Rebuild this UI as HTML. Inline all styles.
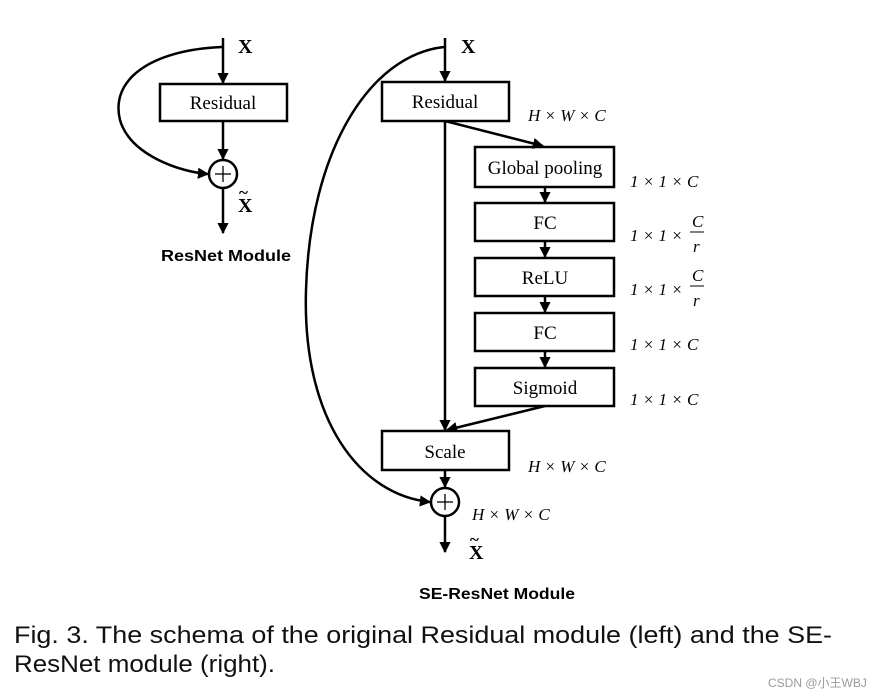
<!DOCTYPE html>
<html><head><style>
html,body{margin:0;padding:0;background:#fff;width:894px;height:699px;overflow:hidden}
svg{display:block}
.t{font-family:"Liberation Serif",serif;font-size:19px}
.m{font-family:"Liberation Serif",serif;font-size:17px;font-style:italic}
.b{font-family:"Liberation Sans",sans-serif;font-weight:bold;font-size:16px}
</style></head><body>
<svg width="894" height="699" viewBox="0 0 894 699">
<defs><marker id="a" viewBox="0 0 10 10" refX="9" refY="5" markerWidth="4.5" markerHeight="4.5" orient="auto"><path d="M0,0 L10,5 L0,10 z" fill="#000"/></marker></defs>
<g stroke="#000" stroke-width="2.5" fill="none">
<line x1="223" y1="38" x2="223" y2="83" marker-end="url(#a)"/>
<rect x="160" y="84" width="127" height="37" fill="#fff"/>
<line x1="223" y1="121" x2="223" y2="159" marker-end="url(#a)"/>
<circle cx="223" cy="174" r="14"/>
<line x1="223" y1="188" x2="223" y2="233" marker-end="url(#a)"/>
<path d="M222,47 C150,50 110,80 120,120 C130,155 180,172 208,174" marker-end="url(#a)"/>
<line x1="445" y1="38" x2="445" y2="81" marker-end="url(#a)"/>
<rect x="382" y="82" width="127" height="39" fill="#fff"/>
<line x1="445" y1="121" x2="445" y2="430" marker-end="url(#a)"/>
<line x1="445" y1="121" x2="543" y2="146" marker-end="url(#a)"/>
<rect x="475" y="147" width="139" height="40"/>
<rect x="475" y="203" width="139" height="38"/>
<rect x="475" y="258" width="139" height="38"/>
<rect x="475" y="313" width="139" height="38"/>
<rect x="475" y="368" width="139" height="38"/>
<line x1="545" y1="187" x2="545" y2="202" marker-end="url(#a)"/>
<line x1="545" y1="241" x2="545" y2="257" marker-end="url(#a)"/>
<line x1="545" y1="296" x2="545" y2="312" marker-end="url(#a)"/>
<line x1="545" y1="351" x2="545" y2="367" marker-end="url(#a)"/>
<line x1="545" y1="406" x2="447" y2="430" marker-end="url(#a)"/>
<rect x="382" y="431" width="127" height="39" fill="#fff"/>
<line x1="445" y1="470" x2="445" y2="487" marker-end="url(#a)"/>
<circle cx="445" cy="502" r="14"/>
<line x1="445" y1="516" x2="445" y2="552" marker-end="url(#a)"/>
<path d="M444,47 C370,55 310,150 306,290 C302,420 360,495 430,502" marker-end="url(#a)"/>
</g>
<g stroke="#000" stroke-width="1.3">
<line x1="215" y1="174" x2="231" y2="174"/><line x1="223" y1="166" x2="223" y2="182"/>
<line x1="437" y1="502" x2="453" y2="502"/><line x1="445" y1="494" x2="445" y2="510"/>
</g>
<g class="t" text-anchor="middle">
<text x="223" y="109">Residual</text>
<text x="445" y="108">Residual</text>
<text x="545" y="174">Global pooling</text>
<text x="545" y="229">FC</text>
<text x="545" y="284">ReLU</text>
<text x="545" y="339">FC</text>
<text x="545" y="394">Sigmoid</text>
<text x="445" y="458">Scale</text>
</g>
<g font-family="Liberation Serif,serif" font-weight="bold" font-size="20">
<text x="238" y="53">X</text><text x="238" y="212">X</text><text x="239" y="198" font-size="17">~</text>
<text x="461" y="53">X</text><text x="469" y="559">X</text><text x="470" y="545" font-size="17">~</text>
</g>
<g class="m">
<text x="528" y="121">H × W × C</text>
<text x="630" y="187">1 × 1 × C</text>
<text x="630" y="241">1 × 1 ×</text><text x="692" y="227">C</text><text x="693" y="252">r</text>
<text x="630" y="295">1 × 1 ×</text><text x="692" y="281">C</text><text x="693" y="306">r</text>
<text x="630" y="350">1 × 1 × C</text>
<text x="630" y="405">1 × 1 × C</text>
<text x="528" y="472">H × W × C</text>
<text x="472" y="520">H × W × C</text>
</g>
<g stroke="#000" stroke-width="1"><line x1="690" y1="232" x2="704" y2="232"/><line x1="690" y1="286" x2="704" y2="286"/></g>
<text class="b" x="161" y="261" textLength="130" lengthAdjust="spacingAndGlyphs">ResNet Module</text>
<text class="b" x="419" y="599" textLength="156" lengthAdjust="spacingAndGlyphs">SE-ResNet Module</text>
<g font-family="Liberation Sans,sans-serif" font-size="24" fill="#111">
<text x="14" y="643" textLength="818" lengthAdjust="spacingAndGlyphs">Fig. 3. The schema of the original Residual module (left) and the SE-</text>
<text x="14" y="672" textLength="261" lengthAdjust="spacingAndGlyphs">ResNet module (right).</text>
</g>
<text x="768" y="687" font-family="Liberation Sans,'Noto Sans CJK SC',sans-serif" font-size="12" fill="#999">CSDN @小王WBJ</text>
</svg>
</body></html>
